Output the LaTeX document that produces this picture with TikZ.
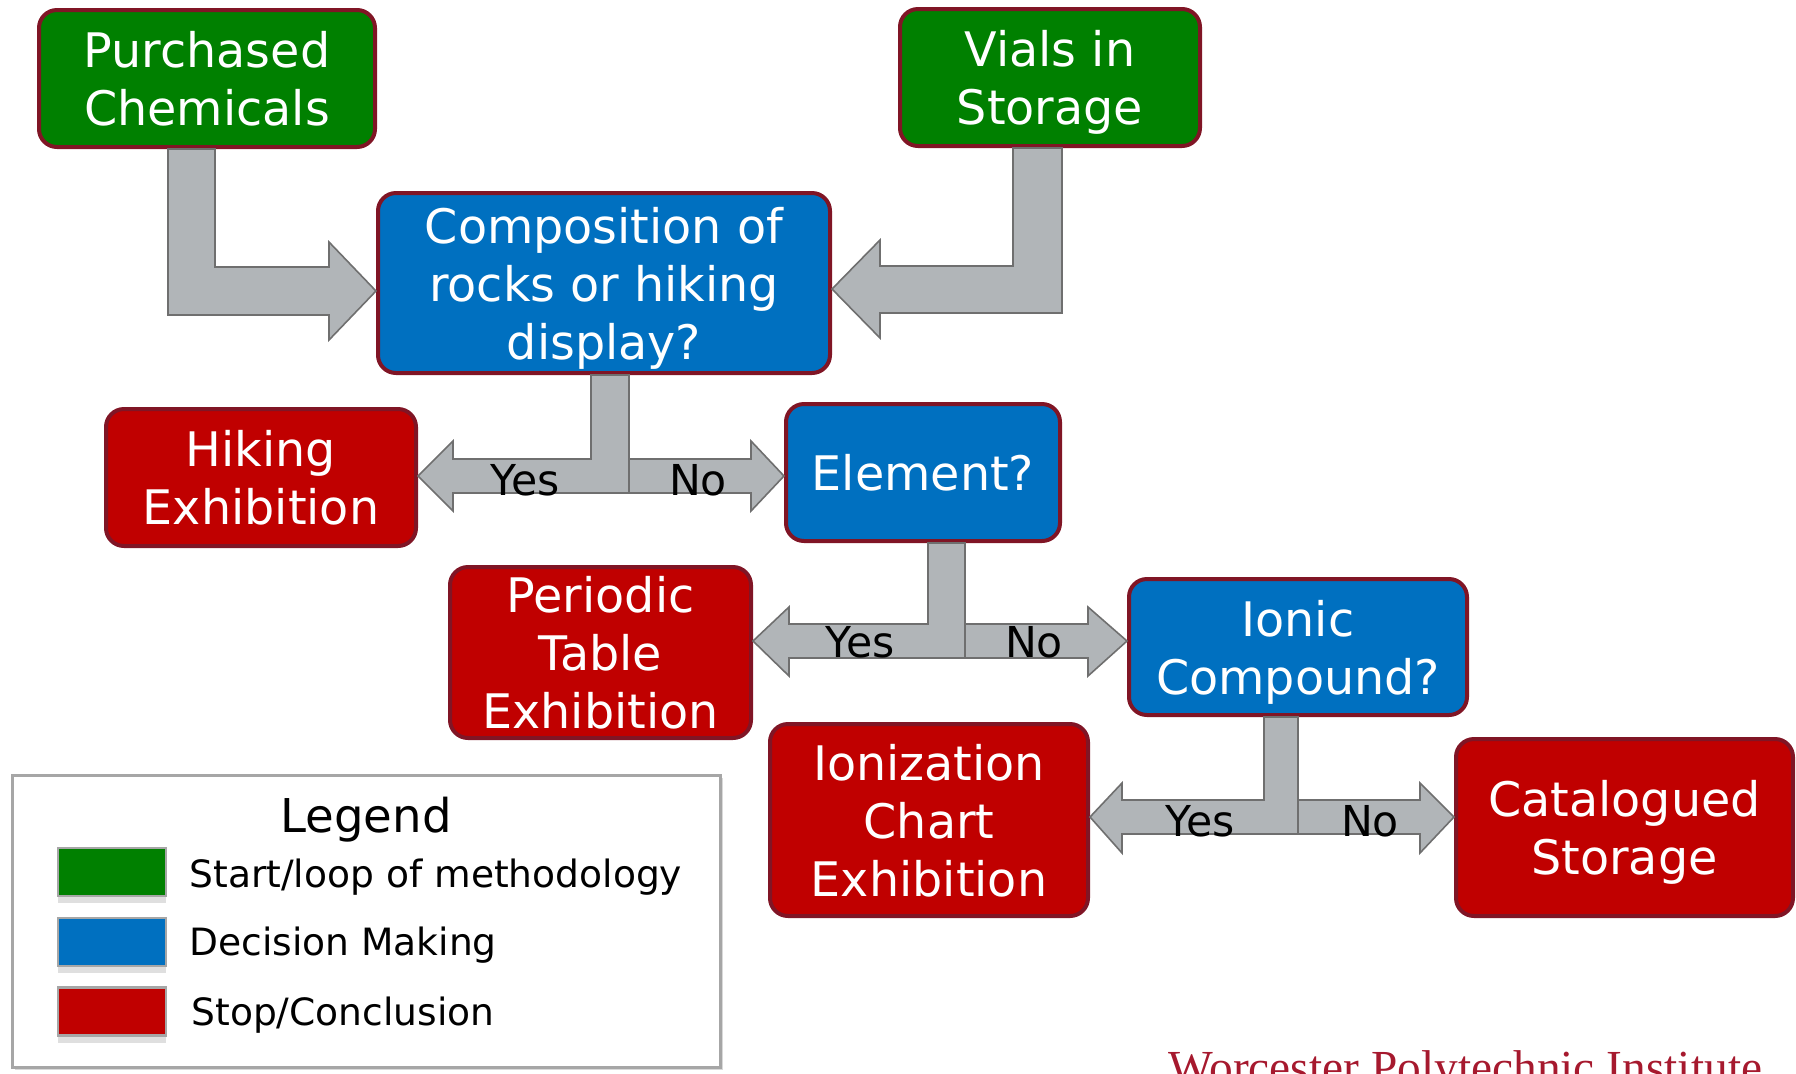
\documentclass[tikz,border=0pt]{standalone}
\usepackage{fontspec}
\setmainfont{DejaVu Sans}
\newfontfamily\wpifont{Liberation Serif}
\usetikzlibrary{shadows}

\definecolor{startgreen}{RGB}{0,128,0}
\definecolor{decblue}{RGB}{0,112,192}
\definecolor{stopred}{RGB}{192,0,0}
\definecolor{boxrim}{RGB}{128,21,37}
\definecolor{arrowfill}{RGB}{177,181,184}
\definecolor{arrowrim}{RGB}{111,111,111}
\definecolor{wpired}{RGB}{166,25,46}

\tikzset{
  flowbox/.style={draw=boxrim,line width=2pt,rounded corners=9pt,text=white,
    align=center,inner sep=0pt,text depth=0pt,font=\fontsize{23.8}{29}\selectfont},
  startbox/.style={flowbox,fill=startgreen},
  decisionbox/.style={flowbox,fill=decblue},
  stopbox/.style={flowbox,fill=stopred},
  blockarrow/.style={fill=arrowfill,draw=arrowrim,line width=0.8pt,line join=miter},
  answer/.style={anchor=base,inner sep=0pt,font=\fontsize{21.3}{25}\selectfont},
  swatch/.style={draw=black!35,line width=1.2pt,minimum width=54pt,minimum height=24pt,
    drop shadow={shadow xshift=0pt,shadow yshift=-3.5pt,opacity=0.25}},
  legendtext/.style={anchor=base west,inner sep=0pt,font=\fontsize{18.8}{22}\selectfont}
}

\begin{document}
\begin{tikzpicture}[x=0.5pt,y=-0.5pt]
\useasboundingbox (0,0) rectangle (1796,1073);

\node[startbox,minimum width=168pt,minimum height=68.5pt] (pur) at (207,78.5) {Purchased\\Chemicals};
\node[startbox,minimum width=150pt,minimum height=68.5pt] (vials) at (1050,77.5) {Vials in\\Storage};
\node[decisionbox,minimum width=226pt,minimum height=90pt] (comp) at (604,283) {Composition of\\rocks or hiking\\display?};
\node[stopbox,minimum width=155pt,minimum height=68.5pt] (hike) at (261,477.5) {Hiking\\Exhibition};
\node[decisionbox,minimum width=137pt,minimum height=68.5pt] (elem) at (923,472.5) {Element?};
\node[stopbox,minimum width=150.5pt,minimum height=85.5pt] (peri) at (600.5,652.5) {Periodic\\Table\\Exhibition};
\node[decisionbox,minimum width=169pt,minimum height=68pt] (ionic) at (1298,647) {Ionic\\Compound?};
\node[stopbox,minimum width=159pt,minimum height=96pt] (ioniz) at (929,820) {Ionization\\Chart\\Exhibition};
\node[stopbox,minimum width=168.5pt,minimum height=88.5pt] (cat) at (1624.5,827.5) {Catalogued\\Storage};

\draw[blockarrow] (168,0 |- pur.south) -- (168,315) -- (329,315) -- (329,340) -- (comp.west |- 0,291)
  -- (329,242) -- (329,267) -- (215,267) -- (215,0 |- pur.south) -- cycle;
\draw[blockarrow] (1062,0 |- vials.south) -- (1062,313) -- (880,313) -- (880,338) -- (comp.east |- 0,289)
  -- (880,240) -- (880,266) -- (1013,266) -- (1013,0 |- vials.south) -- cycle;

\draw[blockarrow] (591,0 |- comp.south) -- (591,459) -- (453,459) -- (453,441) -- (hike.east |- 0,476)
  -- (453,511) -- (453,493) -- (629,493) -- (629,0 |- comp.south) -- cycle;
\draw[blockarrow] (629,459) -- (751,459) -- (751,441) -- (elem.west |- 0,476) -- (751,511) -- (751,493) -- (629,493) -- cycle;
\node[answer] (yes1) at (525,495) {Yes};
\node[answer] (no1) at (698,495) {No};

\draw[blockarrow] (928,0 |- elem.south) -- (928,624) -- (789,624) -- (789,607) -- (peri.east |- 0,641)
  -- (789,676) -- (789,658) -- (965,658) -- (965,0 |- elem.south) -- cycle;
\draw[blockarrow] (965,624) -- (1088,624) -- (1088,607) -- (ionic.west |- 0,641) -- (1088,676) -- (1088,658) -- (965,658) -- cycle;
\node[answer] (yes2) at (860,657) {Yes};
\node[answer] (no2) at (1034,657) {No};

\draw[blockarrow] (1264,0 |- ionic.south) -- (1264,800) -- (1122,800) -- (1122,783) -- (ioniz.east |- 0,817)
  -- (1122,853) -- (1122,834) -- (1298,834) -- (1298,0 |- ionic.south) -- cycle;
\draw[blockarrow] (1298,800) -- (1420,800) -- (1420,783) -- (cat.west |- 0,817) -- (1420,853) -- (1420,834) -- (1298,834) -- cycle;
\node[answer] (yes3) at (1200,836) {Yes};
\node[answer] (no3) at (1370,836) {No};

\draw[draw=black!35,line width=1.5pt,fill=white,
  drop shadow={shadow xshift=1.5pt,shadow yshift=-1.5pt,opacity=0.3}] (12,775) rectangle (720,1067);
\node[anchor=base,inner sep=0pt,font=\fontsize{23.3}{29}\selectfont] (legend) at (366,832) {Legend};
\node[swatch,fill=startgreen] (sw1) at (112,872) {};
\node[swatch,fill=decblue] (sw2) at (112,942) {};
\node[swatch,fill=stopred] (sw3) at (112,1011.5) {};
\node[legendtext] (lg1) at (189,887) {Start/loop of methodology};
\node[legendtext] (lg2) at (189,955) {Decision Making};
\node[legendtext] (lg3) at (191,1025) {Stop/Conclusion};

\node[anchor=base west,inner sep=0pt,text=wpired,font=\wpifont\fontsize{23.7}{28}\selectfont] (wpi) at (1168,1083) {Worcester Polytechnic Institute};
\end{tikzpicture}
\end{document}
